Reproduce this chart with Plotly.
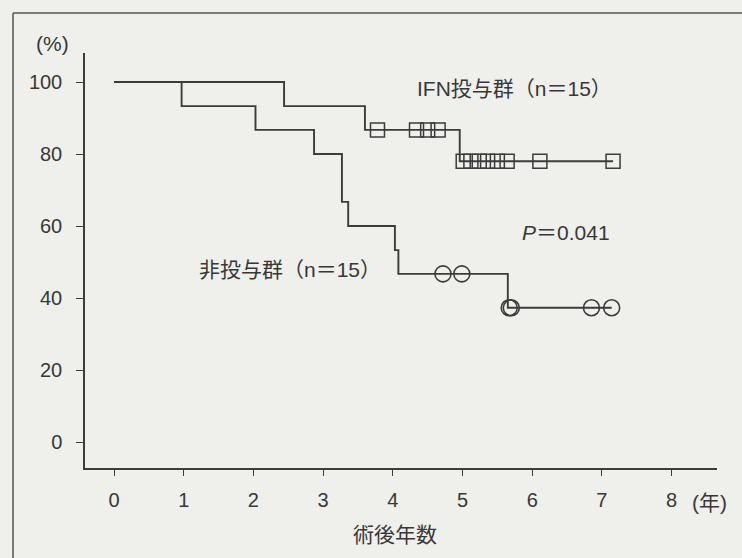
import plotly.graph_objects as go

# ---- data ----
# Kaplan-Meier step curves: times (years) and survival (%)
ifn_t = [0, 2.44, 3.60, 4.96, 7.16]
ifn_s = [100, 93.3, 86.7, 78.0, 78.0]
ifn_cens_t = [3.78, 4.34, 4.50, 4.65, 5.01, 5.12, 5.24, 5.36, 5.50, 5.64, 6.11, 7.16]
ifn_cens_s = [86.7, 86.7, 86.7, 86.7, 78.0, 78.0, 78.0, 78.0, 78.0, 78.0, 78.0, 78.0]

non_t = [0, 0.97, 2.03, 2.87, 3.27, 3.36, 4.03, 4.08, 5.65, 7.14]
non_s = [100, 93.3, 86.7, 80.0, 66.7, 60.0, 53.3, 46.7, 37.3, 37.3]
non_cens_t = [4.72, 4.99, 5.67, 5.70, 6.85, 7.14]
non_cens_s = [46.7, 46.7, 37.3, 37.3, 37.3, 37.3]

x_ticks = [0, 1, 2, 3, 4, 5, 6, 7, 8]
y_ticks = [0, 20, 40, 60, 80, 100]

INK = "#3c3c3c"
TXT = "#383838"
BG = "#efefec"
FONT = "Liberation Sans, Noto Sans CJK JP, sans-serif"

fig = go.Figure()
fig.add_trace(go.Scatter(x=ifn_t, y=ifn_s, mode="lines", line=dict(shape="hv", color=INK, width=1.9),
                         hoverinfo="skip", showlegend=False))
fig.add_trace(go.Scatter(x=non_t, y=non_s, mode="lines", line=dict(shape="hv", color=INK, width=1.9),
                         hoverinfo="skip", showlegend=False))
fig.add_trace(go.Scatter(x=ifn_cens_t, y=ifn_cens_s, mode="markers",
                         marker=dict(symbol="square-open", size=14, color=INK, line=dict(width=1.5, color=INK)),
                         showlegend=False))
fig.add_trace(go.Scatter(x=non_cens_t, y=non_cens_s, mode="markers",
                         marker=dict(symbol="circle-open", size=16, color=INK, line=dict(width=1.6, color=INK)),
                         showlegend=False))

ann = dict(showarrow=False, font=dict(family=FONT, size=21, color=TXT))
fig.add_annotation(x=4.32, y=98.3, text="IFN投与群（n＝15）", xanchor="left", yanchor="middle", **ann)
fig.add_annotation(x=1.19, y=47.8, text="非投与群（n＝15）", xanchor="left", yanchor="middle", **ann)
fig.add_annotation(x=5.83, y=58.1, text="<i>P</i>＝0.041", xanchor="left", yanchor="middle", **ann)
fig.add_annotation(x=-0.052, y=1.024, xref="paper", yref="paper", text="(%)", xanchor="center", yanchor="middle", **ann)
fig.add_annotation(x=0.988, y=-0.082, xref="paper", yref="paper", text="(年)", xanchor="center", yanchor="middle", **ann)
fig.add_annotation(x=0.49, y=-0.161, xref="paper", yref="paper", text="術後年数", xanchor="center", yanchor="middle", **ann)

# scan frame (left and top border)
fig.add_shape(type="line", xref="paper", yref="paper", x0=(13 - 85) / 632, x1=1.05, y0=(468 - 13) / 415, y1=(468 - 13) / 415,
              line=dict(color="#555", width=1.5))
fig.add_shape(type="line", xref="paper", yref="paper", x0=(13 - 85) / 632, x1=(13 - 85) / 632, y0=(468 - 13) / 415, y1=-0.3,
              line=dict(color="#555", width=1.5))

fig.update_xaxes(range=[-0.416, 8.651], tickvals=x_ticks, ticktext=[str(v) for v in x_ticks],
                 showline=True, linecolor=INK, linewidth=1.5, ticks="outside", ticklen=6, tickcolor=INK,
                 tickwidth=1.3, showgrid=False, zeroline=False, ticklabelstandoff=7,
                 tickfont=dict(family=FONT, size=20, color=TXT))
fig.update_yaxes(range=[-7.22, 108.06], tickvals=y_ticks, ticktext=[str(v) for v in y_ticks],
                 showline=True, linecolor=INK, linewidth=1.5, ticks="outside", ticklen=7, tickcolor=INK,
                 tickwidth=1.3, showgrid=False, zeroline=False, ticklabelstandoff=10,
                 tickfont=dict(family=FONT, size=20, color=TXT))

fig.update_layout(width=742, height=558, margin=dict(l=85, r=25, t=53, b=90, autoexpand=False),
                  plot_bgcolor=BG, paper_bgcolor=BG, showlegend=False)

fig.write_html("out.html")
